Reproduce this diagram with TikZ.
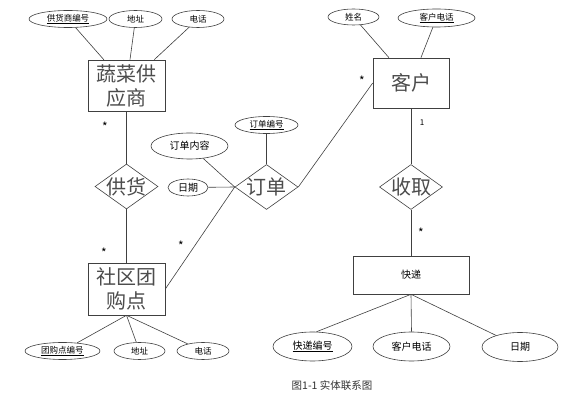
\documentclass[tikz,border=0pt]{standalone}
\usepackage{fontspec}
\setmainfont{Noto Sans CJK SC}
\usetikzlibrary{shapes.geometric}
\begin{document}
\begin{tikzpicture}[x=1pt,y=-1pt,
    erline/.style={draw=black!75,line width=0.6pt},
    entity/.style={erline,rectangle,inner sep=2pt,align=center,font=\fontsize{20}{24}\selectfont,text=black!70},
    rel/.style={erline,diamond,inner sep=0pt,minimum width=63pt,minimum height=45pt,font=\fontsize{20}{24}\selectfont,text=black!70},
    attr/.style={erline,ellipse,inner sep=0pt,font=\fontsize{8.5}{10}\selectfont},
    attrm/.style={attr,font=\fontsize{10}{12}\selectfont},
    card/.style={font=\fontsize{12}{12}\selectfont}]
    \useasboundingbox[fill=white] (0,0) rectangle (563,403);
    \node[entity,minimum width=77pt,minimum height=51pt] (gys) at (126.5,85.5) {蔬菜供\\应商};
    \node[entity,minimum width=77pt,minimum height=52pt] (sq) at (126.5,289) {社区团\\购点};
    \node[entity,minimum width=76pt,minimum height=50pt] (kh) at (411,83) {客户};
    \node[entity,minimum width=116pt,minimum height=38pt,font=\fontsize{10}{12}\selectfont,text=black] (kd) at (411,275) {快递};
    \node[rel] (gh) at (126.5,186.5) {\makebox[0pt]{供货}};
    \node[rel] (dd) at (266.5,187) {\makebox[0pt]{订单}};
    \node[rel] (squ) at (411,187) {\makebox[0pt]{收取}};
    \node[attr,minimum width=78pt,minimum height=17pt] (gysbh) at (68,19) {\underline{供货商编号}};
    \node[attr,minimum width=53pt,minimum height=17pt] (gysdz) at (135.5,19) {地址};
    \node[attr,minimum width=52pt,minimum height=17pt] (gysdh) at (198,19) {电话};
    \node[attr,minimum width=75pt,minimum height=17pt] (tgdbh) at (62.5,351) {\underline{团购点编号}};
    \node[attr,minimum width=51pt,minimum height=17pt] (tgddz) at (139.5,351) {地址};
    \node[attr,minimum width=52pt,minimum height=17pt] (tgddh) at (203,351) {电话};
    \node[attr,minimum width=63pt,minimum height=17pt] (ddbh) at (266.5,125) {\underline{订单编号}};
    \node[attrm,minimum width=77pt,minimum height=26pt] (ddnr) at (189.5,146) {订单内容};
    \node[attrm,minimum width=40pt,minimum height=17pt] (ddrq) at (188,187.5) {日期};
    \node[attr,minimum width=51pt,minimum height=16pt] (khxm) at (353.5,17) {姓名};
    \node[attr,minimum width=77pt,minimum height=18pt] (khdh) at (436.5,18) {\underline{客户电话}};
    \node[attrm,minimum width=79pt,minimum height=29pt] (kdbh) at (312.5,346.5) {\underline{快递编号}};
    \node[attrm,minimum width=77pt,minimum height=29pt] (kddh) at (411.5,346.5) {客户电话};
    \node[attrm,minimum width=76pt,minimum height=29pt] (kdrq) at (520,347) {日期};
    \draw[erline] (gysbh) -- (gys);
    \draw[erline] (gysdz) -- (gys);
    \draw[erline] (gysdh) -- (gys);
    \draw[erline] (gys.south) -- (gh.north);
    \draw[erline] (gh.south) -- (sq.north);
    \draw[erline] (sq.south) -- (tgdbh);
    \draw[erline] (sq.south) -- (tgddz);
    \draw[erline] (sq.south) -- (tgddh);
    \draw[erline] (sq.east) -- (dd.west);
    \draw[erline] (ddnr) -- (dd.west);
    \draw[erline] (ddrq) -- (dd.west);
    \draw[erline] (ddbh) -- (dd.north);
    \draw[erline] (dd.east) -- (kh.west);
    \draw[erline] (khxm) -- (kh);
    \draw[erline] (khdh) -- (kh);
    \draw[erline] (kh.south) -- (squ.north);
    \draw[erline] (squ.south) -- (kd.north);
    \draw[erline] (kd.south) -- (kdbh.75);
    \draw[erline] (kd.south) -- (kddh.north);
    \draw[erline] (kd.south) -- (kdrq);
    \node[card] (c1) at (105,127) {*};
    \node[card] (c2) at (104,253) {*};
    \node[card] (c3) at (181,246) {*};
    \node[card] (c4) at (362,81) {*};
    \node[card,font=\fontsize{8}{10}\selectfont] (c5) at (422,123) {1};
    \node[card] (c6) at (421,233) {*};
    \node[font=\fontsize{10.5}{12}\selectfont,text=black!80] (cap) at (332,386) {图1-1 实体联系图};
\end{tikzpicture}
\end{document}
